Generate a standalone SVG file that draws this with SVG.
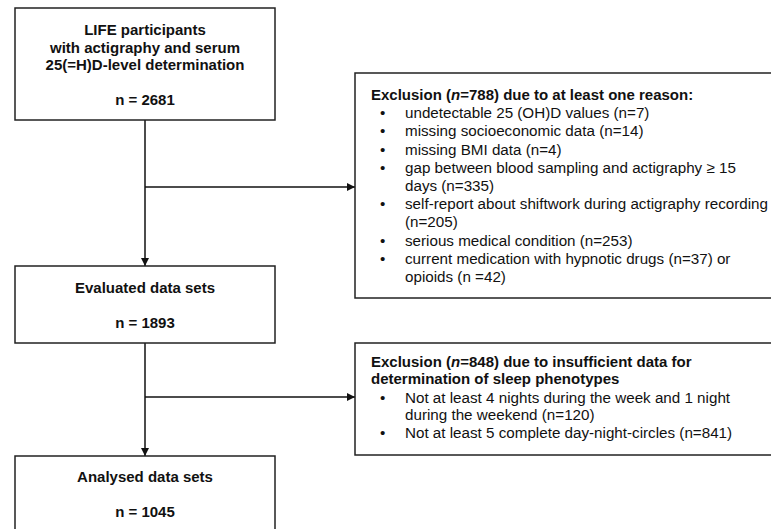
<svg xmlns="http://www.w3.org/2000/svg" width="771" height="529" viewBox="0 0 771 529">
<style>
.box{fill:#fff;stroke:#222;stroke-width:1.5}
.t{font-family:"Liberation Sans",Arial,sans-serif;fill:#111}
.b{font-weight:bold;font-size:15px}
.r{font-size:15.2px}
.c{text-anchor:middle}
.ln{stroke:#111;stroke-width:1.5;fill:none}
</style>
<defs>
<marker id="ah" viewBox="0 0 10 10" refX="10" refY="5" markerWidth="8" markerHeight="8" markerUnits="userSpaceOnUse" orient="auto">
<path d="M0,0 L10,5 L0,10 z" fill="#111"/>
</marker>
</defs>
<rect width="771" height="529" fill="#fff"/>
<g id="connectors">
<line class="ln" x1="145" y1="120" x2="145" y2="266" marker-end="url(#ah)"/>
<line class="ln" x1="145" y1="187" x2="355" y2="187" marker-end="url(#ah)"/>
<line class="ln" x1="145" y1="343" x2="145" y2="456" marker-end="url(#ah)"/>
<line class="ln" x1="145" y1="397" x2="355" y2="397" marker-end="url(#ah)"/>
</g>
<g id="n1">
<rect class="box" x="15" y="8" width="260" height="112"/>
<text class="t b c" x="145" y="35">LIFE participants</text>
<text class="t b c" x="145" y="53">with actigraphy and serum</text>
<text class="t b c" x="145" y="70">25(=H)D-level determination</text>
<text class="t b c" x="145" y="105">n = 2681</text>
</g>
<g id="ex1">
<rect class="box" x="355" y="73" width="420" height="225"/>
<text class="t b" x="371" y="100">Exclusion (<tspan font-style="italic">n</tspan>=788) due to at least one reason:</text>
<g class="t r">
<text x="380" y="118">•</text><text x="405" y="118">undetectable 25 (OH)D values (n=7)</text>
<text x="380" y="136">•</text><text x="405" y="136">missing socioeconomic data (n=14)</text>
<text x="380" y="155">•</text><text x="405" y="155">missing BMI data (n=4)</text>
<text x="380" y="173">•</text><text x="405" y="173">gap between blood sampling and actigraphy ≥ 15</text>
<text x="405" y="191">days (n=335)</text>
<text x="380" y="209">•</text><text x="405" y="209">self-report about shiftwork during actigraphy recording</text>
<text x="405" y="227">(n=205)</text>
<text x="380" y="246">•</text><text x="405" y="246">serious medical condition (n=253)</text>
<text x="380" y="264">•</text><text x="405" y="264">current medication with hypnotic drugs (n=37) or</text>
<text x="405" y="282">opioids (n =42)</text>
</g>
</g>
<g id="n2">
<rect class="box" x="15" y="266" width="260" height="77"/>
<text class="t b c" x="145" y="293">Evaluated data sets</text>
<text class="t b c" x="145" y="328">n = 1893</text>
</g>
<g id="ex2">
<rect class="box" x="355" y="343" width="420" height="112"/>
<text class="t b" x="371" y="367">Exclusion (<tspan font-style="italic">n</tspan>=848) due to insufficient data for</text>
<text class="t b" x="371" y="384">determination of sleep phenotypes</text>
<g class="t r">
<text x="380" y="403">•</text><text x="405" y="403">Not at least 4 nights during the week and 1 night</text>
<text x="405" y="420">during the weekend (n=120)</text>
<text x="380" y="438">•</text><text x="405" y="438">Not at least 5 complete day-night-circles (n=841)</text>
</g>
</g>
<g id="n3">
<rect class="box" x="15" y="456" width="260" height="80"/>
<text class="t b c" x="145" y="482">Analysed data sets</text>
<text class="t b c" x="145" y="517">n = 1045</text>
</g>
</svg>
